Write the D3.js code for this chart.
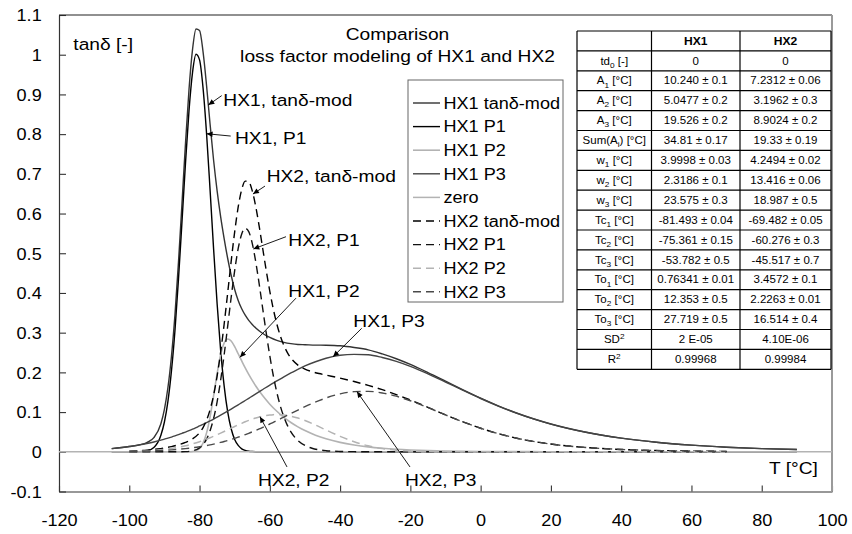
<!DOCTYPE html>
<html>
<head>
<meta charset="utf-8">
<script src="https://cdn.jsdelivr.net/npm/d3@7"></script>
<style>
  body { margin: 0; background: #fff; }
  svg { display: block; background: #fff; }
</style>
</head>
<body>
<svg id="chart" width="852" height="534"></svg>
<script>
// ---------------- data ----------------
const temperatureHX1 = [-105, -100, -97, -95, -93, -91, -90, -89, -88, -87, -86, -85, -84, -83, -82, -81, -80, -79, -78, -77, -76, -75, -74, -73, -72, -71, -70, -69, -68, -67, -66, -65, -64, -62, -60, -58, -56, -54, -52, -50, -47, -44, -40, -36, -32, -28, -24, -20, -15, -10, -5, 0, 5, 10, 15, 20, 30, 40, 50, 60, 70, 80, 90];

const hx1TanDelta = [0.0080, 0.0132, 0.0177, 0.0231, 0.0355, 0.0708, 0.1069, 0.1614, 0.2401, 0.3450,
  0.4771, 0.6255, 0.7768, 0.9124, 1.0127, 1.0648, 1.0608, 1.0071, 0.9219, 0.8248,
  0.7343, 0.6572, 0.5924, 0.5371, 0.4874, 0.4446, 0.4088, 0.3812, 0.3601, 0.3439,
  0.3310, 0.3207, 0.3118, 0.2979, 0.2879, 0.2804, 0.2755, 0.2723, 0.2703, 0.2697,
  0.2687, 0.2684, 0.2669, 0.2626, 0.2567, 0.2465, 0.2343, 0.2199, 0.1994, 0.1778,
  0.1560, 0.1351, 0.1158, 0.0984, 0.0832, 0.0700, 0.0492, 0.0343, 0.0239, 0.0167,
  0.0116, 0.0081, 0.0057];

const hx1P1 = [0, 0, 0.0003, 0.0022, 0.0107, 0.0415, 0.075, 0.127, 0.203, 0.305,
  0.434, 0.579, 0.727, 0.859, 0.955, 1.001, 0.987, 0.916, 0.801, 0.659,
  0.511, 0.373, 0.256, 0.166, 0.101, 0.058, 0.031, 0.016, 0.0075, 0.0034,
  0.0014, 0.0006, 0.0002, 0, 0, 0, 0, 0, 0, 0,
  0, 0, 0, 0, 0, 0, 0, 0, 0, 0,
  0, 0, 0, 0, 0, 0, 0, 0, 0, 0,
  0, 0, 0];

const hx1P2 = [0, 0, 0, 0, 0, 0, 0, 0, 0, 0,
  0, 0, 0.0001, 0.0002, 0.0008, 0.0029, 0.0087, 0.0220, 0.0476, 0.0881,
  0.1409, 0.1968, 0.2441, 0.2738, 0.2840, 0.2790, 0.2649, 0.2469, 0.2289, 0.2113,
  0.1949, 0.1798, 0.1658, 0.1410, 0.1199, 0.1020, 0.0867, 0.0738, 0.0628, 0.0534,
  0.0419, 0.0328, 0.0237, 0.0172, 0.0124, 0.0090, 0.0065, 0.0047, 0.0031, 0.0021,
  0.0014, 0.0009, 0.0006, 0.0004, 0.0003, 0.0002, 0.0001, 0, 0, 0,
  0, 0, 0];

const hx1P3 = [0.0080, 0.0132, 0.0174, 0.0209, 0.0248, 0.0293, 0.0319, 0.0344, 0.0371, 0.0400,
  0.0431, 0.0465, 0.0497, 0.0532, 0.0569, 0.0609, 0.0651, 0.0691, 0.0733, 0.0777,
  0.0824, 0.0874, 0.0923, 0.0973, 0.1024, 0.1076, 0.1129, 0.1183, 0.1237, 0.1292,
  0.1347, 0.1403, 0.1458, 0.1569, 0.1680, 0.1784, 0.1888, 0.1985, 0.2075, 0.2163,
  0.2268, 0.2356, 0.2432, 0.2454, 0.2443, 0.2375, 0.2278, 0.2152, 0.1963, 0.1757,
  0.1546, 0.1342, 0.1152, 0.0980, 0.0829, 0.0698, 0.0491, 0.0343, 0.0239, 0.0167,
  0.0116, 0.0081, 0.0057];

const temperatureHX2 = [-100, -95, -92, -90, -88, -86, -84, -82, -80, -79, -78, -77, -76, -75, -74, -73, -72, -71, -70, -69, -68, -67, -66, -65, -64, -63, -62, -61, -60, -59, -58, -57, -56, -55, -54, -52, -50, -48, -46, -44, -40, -36, -32, -28, -24, -20, -15, -10, -5, 0, 5, 10, 15, 20, 30, 40, 50, 60, 70];

const hx2TanDelta = [0.0016, 0.0041, 0.0070, 0.0096, 0.0131, 0.0176, 0.0237, 0.0325, 0.0481,
  0.0610, 0.0797, 0.1062, 0.1425, 0.1905, 0.2506, 0.3212, 0.3995, 0.4795, 0.5539,
  0.6166, 0.6603, 0.6816, 0.6800, 0.6572, 0.6172, 0.5665, 0.5107, 0.4554, 0.4041,
  0.3592, 0.3218, 0.2915, 0.2680, 0.2497, 0.2362,
  0.2183, 0.2081, 0.2018, 0.1971, 0.1932,
  0.1855, 0.1769, 0.1673, 0.1564, 0.1441, 0.1304,
  0.1119, 0.0931, 0.0753, 0.0593, 0.0458, 0.0348, 0.0262, 0.0195,
  0.0108, 0.0059, 0.0032, 0.0018, 0.0010];

const hx2P1 = [0, 0, 0, 0, 0, 0.0001, 0.0005, 0.0025, 0.0099,
  0.0182, 0.0319, 0.0532, 0.0839, 0.1260, 0.1799, 0.2441, 0.3157, 0.3889, 0.4564,
  0.5120, 0.5487, 0.5629, 0.5544, 0.5247, 0.4781, 0.4210, 0.3591, 0.2980, 0.2413,
  0.1915, 0.1494, 0.1151, 0.0878, 0.0665, 0.0502,
  0.0283, 0.0159, 0.0089, 0.0050, 0.0028,
  0.0009, 0.0003, 0.0001, 0, 0, 0,
  0, 0, 0, 0, 0, 0, 0, 0,
  0, 0, 0, 0, 0];

const hx2P2 = [0.0008, 0.0023, 0.0042, 0.0059, 0.0083, 0.0113, 0.0152, 0.0199, 0.0255,
  0.0286, 0.0320, 0.0355, 0.0392, 0.0431, 0.0471, 0.0512, 0.0554, 0.0596, 0.0637,
  0.0678, 0.0717, 0.0755, 0.0790, 0.0823, 0.0852, 0.0878, 0.0899, 0.0916, 0.0928,
  0.0935, 0.0938, 0.0935, 0.0927, 0.0914, 0.0897,
  0.0849, 0.0787, 0.0714, 0.0633, 0.0549,
  0.0389, 0.0252, 0.0150, 0.0082, 0.0041, 0.0019,
  0.0006, 0.0002, 0.0001, 0, 0, 0, 0, 0,
  0, 0, 0, 0, 0];

const hx2P3 = [0.0008, 0.0018, 0.0028, 0.0037, 0.0048, 0.0062, 0.0080, 0.0101, 0.0127,
  0.0142, 0.0158, 0.0175, 0.0194, 0.0214, 0.0236, 0.0259, 0.0284, 0.0310, 0.0338,
  0.0368, 0.0399, 0.0432, 0.0466, 0.0502, 0.0539, 0.0577, 0.0617, 0.0658, 0.0700,
  0.0742, 0.0786, 0.0829, 0.0875, 0.0918, 0.0963,
  0.1051, 0.1135, 0.1215, 0.1288, 0.1355,
  0.1457, 0.1514, 0.1522, 0.1482, 0.1400, 0.1285,
  0.1113, 0.0929, 0.0752, 0.0593, 0.0458, 0.0348, 0.0262, 0.0195,
  0.0108, 0.0059, 0.0032, 0.0018, 0.0010];

const zeroTemperature = [-120, 100];
const zeroValue = [0, 0];

const xTickValues = [-120, -100, -80, -60, -40, -20, 0, 20, 40, 60, 80, 100];
const yTickValues = [-0.1, 0, 0.1, 0.2, 0.3, 0.4, 0.5, 0.6, 0.7, 0.8, 0.9, 1.0, 1.1];

const tableHeader = ["", "HX1", "HX2"];
const paramLabels = ["td_{0} [-]", "A_{1} [°C]", "A_{2} [°C]", "A_{3} [°C]", "Sum(A_{i}) [°C]",
  "w_{1} [°C]", "w_{2} [°C]", "w_{3} [°C]", "Tc_{1} [°C]", "Tc_{2} [°C]", "Tc_{3} [°C]",
  "To_{1} [°C]", "To_{2} [°C]", "To_{3} [°C]", "SD^{2}", "R^{2}"];
const hx1Params = ["0", "10.240 ± 0.1", "5.0477 ± 0.2", "19.526 ± 0.2", "34.81 ± 0.17",
  "3.9998 ± 0.03", "2.3186 ± 0.1", "23.575 ± 0.3", "-81.493 ± 0.04", "-75.361 ± 0.15",
  "-53.782 ± 0.5", "0.76341 ± 0.01", "12.353 ± 0.5", "27.719 ± 0.5", "2 E-05", "0.99968"];
const hx2Params = ["0", "7.2312 ± 0.06", "3.1962 ± 0.3", "8.9024 ± 0.2", "19.33 ± 0.19",
  "4.2494 ± 0.02", "13.416 ± 0.06", "18.987 ± 0.5", "-69.482 ± 0.05", "-60.276 ± 0.3",
  "-45.517 ± 0.7", "3.4572 ± 0.1", "2.2263 ± 0.01", "16.514 ± 0.4", "4.10E-06", "0.99984"];

// ---------------- layout ----------------
const FONT = '"Liberation Sans", Arial, Helvetica, sans-serif';
const STRETCH = 1.13;           // text is drawn slightly wide
const plotLeft = 59, plotRight = 832, plotTop = 15, plotBottom = 491.5;

const svg = d3.select("#chart").attr("font-family", FONT);
const x = d3.scaleLinear().domain([-120, 100]).range([plotLeft, plotRight]);
const y = d3.scaleLinear().domain([-0.1, 1.1]).range([plotBottom, plotTop]);

function wideText(parent, str, px, py, size, anchor = "start", weight = "normal") {
  return parent.append("text")
    .attr("transform", `translate(${px},${py}) scale(${STRETCH},1)`)
    .attr("text-anchor", anchor)
    .attr("font-size", size)
    .attr("font-weight", weight)
    .attr("fill", "#000")
    .text(str);
}

// rich label: _{..} subscript, ^{..} superscript
function appendRich(textEl, markup, size) {
  const parts = markup.split(/(_\{[^}]*\}|\^\{[^}]*\})/).filter(p => p.length);
  let shift = 0;
  parts.forEach(p => {
    let target = 0, content = p, fs = size;
    if (p.startsWith("_{")) { target = size * 0.3; content = p.slice(2, -1); fs = size * 0.72; }
    else if (p.startsWith("^{")) { target = -size * 0.4; content = p.slice(2, -1); fs = size * 0.72; }
    textEl.append("tspan").attr("dy", target - shift).attr("font-size", fs).text(content);
    shift = target;
  });
}

// ---------------- axes & frame ----------------
const yAxis = d3.axisLeft(y).tickValues(yTickValues).tickSize(-7).tickSizeOuter(0)
  .tickFormat(d => String(+d.toFixed(1)));
const gy = svg.append("g").attr("transform", `translate(${plotLeft},0)`).call(yAxis)
  .attr("font-family", FONT).attr("font-size", 16);
gy.select(".domain").attr("stroke", "#333").attr("stroke-width", 1.2);
gy.selectAll(".tick line").attr("stroke", "#333").attr("stroke-width", 1.1);
gy.selectAll(".tick text").attr("x", 0).attr("dy", null).attr("fill", "#000")
  .attr("transform", `translate(-17.3,5.8) scale(${STRETCH},1)`);

const xAxis = d3.axisBottom(x).tickValues(xTickValues).tickSize(-6).tickSizeOuter(0)
  .tickFormat(d => String(d));
const gx = svg.append("g").attr("transform", `translate(0,${plotBottom})`).call(xAxis)
  .attr("font-family", FONT).attr("font-size", 16);
gx.select(".domain").attr("stroke", "#333").attr("stroke-width", 1.2);
gx.selectAll(".tick line").attr("stroke", "#333").attr("stroke-width", 1.1);
gx.selectAll(".tick text").attr("y", 0).attr("dy", null).attr("fill", "#000")
  .attr("transform", `translate(0,34.5) scale(${STRETCH},1)`);

svg.append("line").attr("x1", plotLeft).attr("x2", plotRight).attr("y1", plotTop).attr("y2", plotTop)
  .attr("stroke", "#222").attr("stroke-width", 1.1);
svg.append("line").attr("x1", plotRight).attr("x2", plotRight).attr("y1", plotTop).attr("y2", plotBottom)
  .attr("stroke", "#9a9a9a").attr("stroke-width", 2);

// ---------------- series ----------------
const seriesList = [
  { name: "HX1 tanδ-mod", t: temperatureHX1, v: hx1TanDelta, color: "#333333", width: 1.4, dash: null },
  { name: "HX1 P1",       t: temperatureHX1, v: hx1P1,       color: "#000000", width: 1.4, dash: null },
  { name: "HX1 P2",       t: temperatureHX1, v: hx1P2,       color: "#b3b3b3", width: 1.6, dash: null },
  { name: "HX1 P3",       t: temperatureHX1, v: hx1P3,       color: "#444444", width: 1.4, dash: null },
  { name: "zero",         t: zeroTemperature, v: zeroValue,  color: "#b3b3b3", width: 1.5, dash: null },
  { name: "HX2 tanδ-mod", t: temperatureHX2, v: hx2TanDelta, color: "#000000", width: 1.4, dash: "8,5" },
  { name: "HX2 P1",       t: temperatureHX2, v: hx2P1,       color: "#111111", width: 1.4, dash: "8,5" },
  { name: "HX2 P2",       t: temperatureHX2, v: hx2P2,       color: "#b3b3b3", width: 1.5, dash: "8,5" },
  { name: "HX2 P3",       t: temperatureHX2, v: hx2P3,       color: "#4a4a4a", width: 1.4, dash: "8,5" }
];

const line = d3.line().x(d => x(d[0])).y(d => y(d[1])).curve(d3.curveMonotoneX);
const gSeries = svg.append("g").attr("fill", "none");
seriesList.forEach(s => {
  gSeries.append("path")
    .datum(d3.zip(s.t, s.v))
    .attr("d", line)
    .attr("stroke", s.color)
    .attr("stroke-width", s.width)
    .attr("stroke-dasharray", s.dash)
    .attr("stroke-linejoin", "round");
});

// ---------------- titles ----------------
wideText(svg, "Comparison", 397.5, 39.5, 17, "middle");
wideText(svg, "loss factor modeling of HX1 and HX2", 397.5, 62, 17, "middle");
wideText(svg, "tanδ [-]", x(-115.93), y(1.012), 17);
wideText(svg, "T [°C]", x(96), y(-0.056), 17, "end");

// ---------------- legend ----------------
const legend = svg.append("g");
legend.append("rect").attr("x", 408).attr("y", 80).attr("width", 155).attr("height", 222)
  .attr("fill", "#fff").attr("stroke", "#666").attr("stroke-width", 1);
seriesList.forEach((s, i) => {
  const cy = 103 + i * 23.6;
  legend.append("line").attr("x1", 413).attr("x2", 440).attr("y1", cy).attr("y2", cy)
    .attr("stroke", s.color).attr("stroke-width", s.width).attr("stroke-dasharray", s.dash);
  wideText(legend, s.name, 443.5, cy + 5.8, 16);
});

// ---------------- parameter table ----------------
const table = svg.append("g");
const colX = [577, 651.5, 740, 831];
const rowTop = 31, rowH = 19.9;
const nRows = paramLabels.length + 1;
table.append("rect").attr("x", colX[0]).attr("y", rowTop)
  .attr("width", colX[3] - colX[0]).attr("height", nRows * rowH).attr("fill", "#fff");
for (let r = 0; r <= nRows; r++) {
  table.append("line").attr("x1", colX[0]).attr("x2", colX[3])
    .attr("y1", rowTop + r * rowH).attr("y2", rowTop + r * rowH)
    .attr("stroke", "#000").attr("stroke-width", 1.2);
}
colX.forEach(cx => {
  table.append("line").attr("x1", cx).attr("x2", cx).attr("y1", rowTop).attr("y2", rowTop + nRows * rowH)
    .attr("stroke", "#000").attr("stroke-width", 1.2);
});
const colMid = [0, 1, 2].map(i => (colX[i] + colX[i + 1]) / 2);
const TABLE_FS = 10.2;
tableHeader.forEach((h, c) => {
  if (h) wideText(table, h, colMid[c], rowTop + rowH / 2 + 3.7, TABLE_FS + 0.5, "middle", "bold");
});
paramLabels.forEach((lab, i) => {
  const by = rowTop + (i + 1) * rowH + rowH / 2 + 3.7;
  const t = table.append("text")
    .attr("transform", `translate(${colMid[0]},${by}) scale(${STRETCH},1)`)
    .attr("text-anchor", "middle").attr("font-size", TABLE_FS).attr("fill", "#000");
  appendRich(t, lab, TABLE_FS);
  wideText(table, hx1Params[i], colMid[1], by, TABLE_FS, "middle");
  wideText(table, hx2Params[i], colMid[2], by, TABLE_FS, "middle");
});

// ---------------- callouts ----------------
svg.append("defs").append("marker")
  .attr("id", "arrowHead").attr("viewBox", "0 0 10 10").attr("refX", 10).attr("refY", 5)
  .attr("markerWidth", 7).attr("markerHeight", 6).attr("markerUnits", "userSpaceOnUse")
  .attr("orient", "auto")
  .append("path").attr("d", "M0,0.5 L10,5 L0,9.5 z").attr("fill", "#000");

const byName = Object.fromEntries(seriesList.map(s => [s.name, s]));
function valueAt(s, T) { return d3.scaleLinear().domain(s.t).range(s.v)(T); }

const callouts = [
  { text: "HX1, tanδ-mod", at: [-73.24, 0.871], tail: [-1.6, -10.3], series: "HX1 tanδ-mod", tipT: -77.5 },
  { text: "HX1, P1",       at: [-69.91, 0.775], tail: [-4.3, -8],    series: "HX1 P1",       tipT: -78.0 },
  { text: "HX2, tanδ-mod", at: [-60.89, 0.680], tail: [-1.7, 4.3],   series: "HX2 tanδ-mod", tipT: -64.8 },
  { text: "HX2, P1",       at: [-54.74, 0.519], tail: [-2.3, -9],    series: "HX2 P1",       tipT: -64.7 },
  { text: "HX1, P2",       at: [-54.74, 0.391], tail: [7.7, 1.6],    series: "HX1 P2",       tipT: -68.5 },
  { text: "HX1, P3",       at: [-36.24, 0.315], tail: [8.4, 1.6],    series: "HX1 P3",       tipT: -42.0 },
  { text: "HX2, P2",       at: [-63.36, -0.086], tail: [29, -19],    series: "HX2 P2",       tipT: -62.8 },
  { text: "HX2, P3",       at: [-21.53, -0.086], tail: [5, -19],     series: "HX2 P3",       tipT: -35.2 }
];
const gNotes = svg.append("g");
callouts.forEach(c => {
  const px = x(c.at[0]), py = y(c.at[1]);
  const s = byName[c.series];
  gNotes.append("line")
    .attr("x1", px + c.tail[0]).attr("y1", py + c.tail[1])
    .attr("x2", x(c.tipT)).attr("y2", y(valueAt(s, c.tipT)))
    .attr("stroke", "#000").attr("stroke-width", 0.9)
    .attr("marker-end", "url(#arrowHead)");
  wideText(gNotes, c.text, px, py, 17);
});
</script>
</body>
</html>
